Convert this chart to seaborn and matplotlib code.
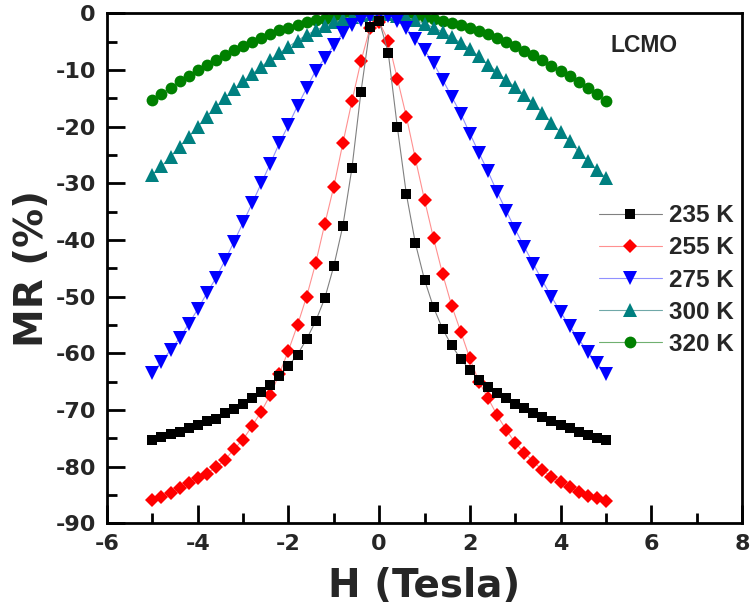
import pandas as pd
import matplotlib
matplotlib.use("Agg")
import matplotlib.pyplot as plt
import seaborn as sns
from matplotlib.ticker import MultipleLocator

field = [-5.0, -4.8, -4.6, -4.4, -4.2, -4.0, -3.8, -3.6, -3.4, -3.2,
         -3.0, -2.8, -2.6, -2.4, -2.2, -2.0, -1.8, -1.6, -1.4, -1.2,
         -1.0, -0.8, -0.6, -0.4, -0.2, 0.0, 0.2, 0.4, 0.6, 0.8,
         1.0, 1.2, 1.4, 1.6, 1.8, 2.0, 2.2, 2.4, 2.6, 2.8,
         3.0, 3.2, 3.4, 3.6, 3.8, 4.0, 4.2, 4.4, 4.6, 4.8, 5.0]

mr_235 = [-75.3, -74.8, -74.3, -73.8, -73.2, -72.6, -72.0, -71.5, -70.6, -69.9,
          -68.9, -67.9, -66.8, -65.5, -64.0, -62.2, -60.2, -57.5, -54.3, -50.3,
          -44.6, -37.5, -27.3, -13.8, -2.4, -1.3, -6.9, -20.0, -31.9, -40.6,
          -47.0, -51.9, -55.7, -58.6, -61.0, -62.9, -64.7, -66.0, -67.0, -67.9,
          -68.9, -69.7, -70.5, -71.2, -71.9, -72.6, -73.2, -73.8, -74.4, -75.0, -75.3]

mr_255 = [-85.9, -85.3, -84.6, -83.8, -82.9, -82.0, -81.2, -80.1, -78.8, -76.9,
          -75.2, -72.8, -70.3, -67.3, -63.6, -59.5, -55.0, -50.0, -44.1, -37.2,
          -30.6, -22.9, -15.5, -8.4, -2.5, -1.5, -4.8, -11.5, -18.2, -25.7,
          -32.9, -39.7, -46.0, -51.6, -56.2, -60.9, -65.0, -67.9, -70.9, -73.5,
          -75.8, -77.5, -79.1, -80.6, -81.8, -82.7, -83.6, -84.4, -85.1, -85.6, -86.0]

mr_275 = [-63.4, -61.5, -59.4, -57.3, -54.8, -52.2, -49.4, -46.7, -43.6, -40.3,
          -36.9, -33.5, -30.0, -26.5, -22.9, -19.7, -16.3, -13.2, -10.1, -7.9,
          -5.6, -3.5, -2.0, -1.1, -0.4, -0.2, -0.4, -1.3, -2.6, -4.6,
          -6.5, -8.8, -11.7, -14.7, -17.7, -21.2, -24.6, -27.9, -31.5, -34.8,
          -38.1, -41.2, -44.2, -47.2, -50.0, -52.7, -55.2, -57.5, -59.7, -61.7, -63.6]

mr_300 = [-28.5, -27.0, -25.3, -23.5, -21.8, -20.0, -18.2, -16.6, -15.0, -13.4,
          -12.0, -10.7, -9.4, -8.2, -7.0, -5.9, -4.8, -3.8, -3.0, -2.3,
          -1.6, -1.0, -0.6, -0.3, -0.1, 0.0, -0.1, -0.4, -0.7, -1.2,
          -1.8, -2.5, -3.3, -4.2, -5.2, -6.3, -7.6, -9.1, -10.3, -11.8,
          -13.0, -14.4, -15.9, -17.5, -19.3, -21.0, -22.6, -24.4, -26.0, -27.6, -29.0]

mr_320 = [-15.3, -14.2, -13.1, -12.0, -11.0, -10.0, -9.1, -8.2, -7.3, -6.5,
          -5.7, -5.0, -4.3, -3.6, -3.0, -2.5, -2.0, -1.6, -1.2, -0.9,
          -0.6, -0.4, -0.2, -0.1, 0.0, 0.0, 0.0, -0.1, -0.2, -0.4,
          -0.6, -0.9, -1.3, -1.7, -2.1, -2.6, -3.1, -3.7, -4.4, -5.1,
          -5.8, -6.6, -7.4, -8.3, -9.2, -10.1, -11.1, -12.1, -13.2, -14.3, -15.4]

labels = ["235 K", "255 K", "275 K", "300 K", "320 K"]
series = [mr_235, mr_255, mr_275, mr_300, mr_320]

colors = ["#000000", "#ff0000", "#0000ff", "#008080", "#008000"]
light = ["#808080", "#ff9090", "#9090ff", "#70a8a8", "#70b070"]
markers = ["s", "D", "v", "^", "o"]
msizes = [7.5, 7.5, 9.5, 9.5, 8.5]

sns.set_style("ticks")
plt.rcParams["font.family"] = ["Liberation Sans", "DejaVu Sans"]
plt.rcParams["font.weight"] = "bold"
plt.rcParams["axes.unicode_minus"] = False

fig = plt.figure(figsize=(7.51, 6.12), dpi=100)
ax = fig.add_axes([0.1425, 0.1448, 0.8455, 0.8333])

handles = {}
# draw from warm to cold so 235 K ends up on top
for i in reversed(range(5)):
    df = pd.DataFrame({"H": field, "MR": series[i]})
    sns.lineplot(data=df, x="H", y="MR", ax=ax, color=colors[i],
                 marker=markers[i], markersize=msizes[i], markeredgewidth=0,
                 linewidth=0.8)
    ln = ax.lines[-1]
    ln.set_color(light[i])
    ln.set_markerfacecolor(colors[i])
    ln.set_markeredgecolor(colors[i])
    handles[i] = ln

ax.set_xlim(-6, 8)
ax.set_ylim(-90, 0)
ax.xaxis.set_major_locator(MultipleLocator(2))
ax.xaxis.set_minor_locator(MultipleLocator(1))
ax.yaxis.set_major_locator(MultipleLocator(10))
ax.yaxis.set_minor_locator(MultipleLocator(5))
ax.tick_params(which="both", direction="in", top=False, right=False,
               width=2, color="black")
ax.tick_params(which="major", length=13, pad=8)
ax.tick_params(which="minor", length=7)
# the tick numbers are set wide in the original
for lab in ax.get_xticklabels() + ax.get_yticklabels():
    lab.set_fontfamily("DejaVu Sans")
    lab.set_fontweight("bold")
    lab.set_fontsize(16)
for sp in ax.spines.values():
    sp.set_linewidth(2)
    sp.set_color("black")

ax.set_xlabel("H (Tesla)", fontsize=28, fontweight="bold",
              family="DejaVu Sans", labelpad=9)
ax.set_ylabel("MR (%)", fontsize=28, fontweight="bold",
              family="DejaVu Sans", labelpad=3)

ax.text(5.85, -5.6, "LCMO", fontsize=16.5, fontweight="bold",
        ha="center", va="center")

ax.legend([handles[i] for i in range(5)], labels, loc="upper left",
          bbox_to_anchor=(0.755, 0.65), frameon=False,
          handlelength=2.6, handletextpad=0.3, labelspacing=0.38,
          borderpad=0, prop={"weight": "bold", "size": 17.5})

fig.savefig("out.png", dpi=100)
